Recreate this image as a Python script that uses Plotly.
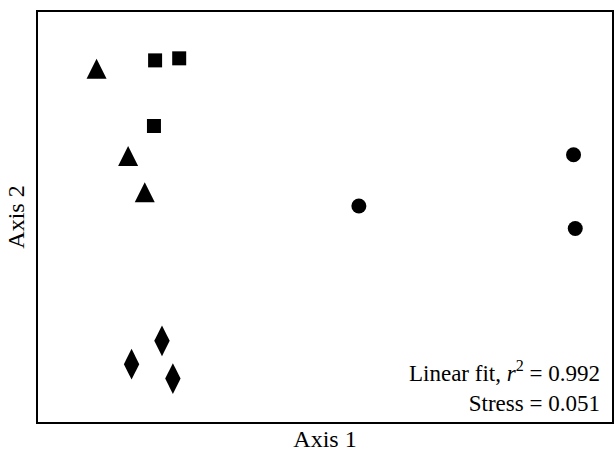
import plotly.graph_objects as go

# NMDS ordination scores (arbitrary units)
tri_x = [1.02, 1.57, 1.86]
tri_y = [8.86, 6.73, 5.85]
sq_x = [2.04, 2.46, 2.02]
sq_y = [8.82, 8.87, 7.22]
dia_x = [2.16, 1.63, 2.35]
dia_y = [1.98, 1.41, 1.06]
cir_x = [5.59, 9.33, 9.36]
cir_y = [5.27, 6.52, 4.72]

r2_text = "0.992"
stress_text = "0.051"

FONT = "Liberation Serif, Times New Roman, serif"

fig = go.Figure()
fig.add_trace(go.Scatter(x=tri_x, y=tri_y, mode="markers",
                         marker=dict(symbol="arrow-up", size=20, color="black", line=dict(width=0))))
fig.add_trace(go.Scatter(x=sq_x, y=sq_y, mode="markers",
                         marker=dict(symbol="square", size=14, color="black", line=dict(width=0))))
fig.add_trace(go.Scatter(x=dia_x, y=dia_y, mode="markers",
                         marker=dict(symbol="diamond-tall", size=22, color="black", line=dict(width=0))))
fig.add_trace(go.Scatter(x=cir_x, y=cir_y, mode="markers",
                         marker=dict(symbol="circle", size=15, color="black", line=dict(width=0))))

fig.add_annotation(
    xref="paper", yref="paper", x=0.983, y=0.01, xanchor="right", yanchor="bottom",
    text=f"Linear fit, <i>r</i><sup>2</sup> = {r2_text}<br>Stress = {stress_text}",
    align="right", showarrow=False, font=dict(family=FONT, size=23, color="black"))

axis_common = dict(showline=True, mirror=True, linecolor="black", linewidth=2,
                   showgrid=False, zeroline=False, showticklabels=False, ticks="",
                   automargin=False)

fig.update_layout(
    width=614, height=453,
    margin=dict(l=38, r=2, t=12, b=31),
    paper_bgcolor="white", plot_bgcolor="white",
    showlegend=False,
    font=dict(family=FONT, color="black"),
    xaxis=dict(range=[0, 10], title=dict(text="Axis 1", font=dict(family=FONT, size=24), standoff=7), **axis_common),
    yaxis=dict(range=[0, 10], title=dict(text="Axis 2", font=dict(family=FONT, size=24), standoff=5), **axis_common),
)

fig.write_html("out.html")
